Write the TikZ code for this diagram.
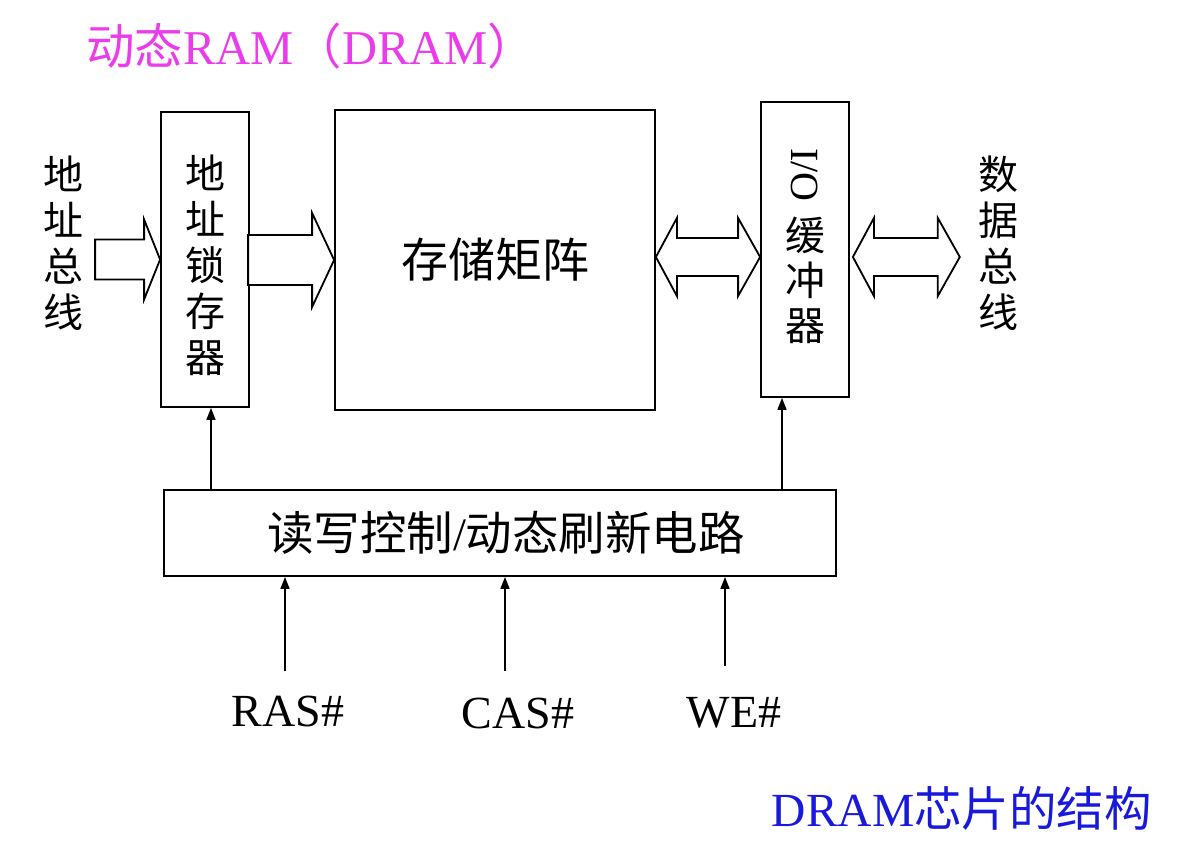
\documentclass[tikz,border=0pt]{standalone}
\usepackage{fontspec}
\setmainfont{Liberation Serif}
\newfontfamily\cjk{Noto Sans CJK SC}
\usetikzlibrary{calc,arrows.meta}
\definecolor{titlemag}{RGB}{235,60,235}
\definecolor{capblue}{RGB}{25,25,220}
\tikzset{
  blk/.style={draw=black, line width=1.8pt, fill=white, inner sep=0pt},
  hollow/.style={draw=black, line width=1.8pt, fill=white, line join=miter},
  sig/.style={draw=black, line width=1.5pt, -{Triangle[length=12pt,width=9pt]}},
  vtext/.style={font=\cjk\fontsize{40}{46}\selectfont, align=center, inner sep=0pt},
  lbl/.style={font=\fontsize{46}{50}\selectfont, inner sep=0pt}
}
\begin{document}
\begin{tikzpicture}[x=1pt,y=-1pt]
\useasboundingbox (0,0) rectangle (1181,847);
\fill[white] (0,0) rectangle (1181,847);

% title
\node[inner sep=0pt, text=titlemag, font=\fontsize{48.5}{52}\selectfont, anchor=west] (title) at (86,46)
  {{\cjk 动态}RAM{\cjk （}DRAM{\cjk ）}};

% boxes
\node[blk, minimum width=88, minimum height=295] (latch) at (205,259.5) {};
\node[vtext] (latchtxt) at (205,265) {地\\址\\锁\\存\\器};
\node[blk, minimum width=320, minimum height=300, font=\cjk\fontsize{47}{50}\selectfont] (matrix) at (495,260) {\raisebox{4pt}{存储矩阵}};
\node[blk, minimum width=88, minimum height=295] (io) at (805,249.5) {};
\node[inner sep=0pt, font=\fontsize{40}{44}\selectfont] (iolat) at (805,175) {\rotatebox{-90}{I/O}};
\node[vtext, font=\cjk\fontsize{40}{45}\selectfont] (iocjk) at (805,280) {缓\\冲\\器};
\node[blk, minimum width=672, minimum height=86, font=\cjk\fontsize{46.5}{50}\selectfont] (ctrl) at (500,533)
  {\hspace*{12pt}读写控制{\rmfamily /}动态刷新电路};

% side labels
\node[vtext] (abus) at (63,243) {地\\址\\总\\线};
\node[vtext] (dbus) at (998,243) {数\\据\\总\\线};

% hollow arrows
\draw[hollow] (latch.west) -- ++(-16,-40) -- ++(0,20) -- ++(-49,0) -- ++(0,40) -- ++(49,0) -- ++(0,20) -- cycle;
\draw[hollow] (matrix.west) -- ++(-22,-47) -- ++(0,22) -- ++(-64,0) -- ++(0,50) -- ++(64,0) -- ++(0,22) -- cycle;
\coordinate (dl) at ($(matrix.east)+(0,-3)$);
\coordinate (dr) at (io.west |- dl);
\draw[hollow] (dl) -- ++(21,-39) -- ++(0,20) -- ($(dr)+(-22,-19)$) -- ++(0,-20) -- (dr) -- ++(-22,39) -- ++(0,-20) -- ($(dl)+(21,19)$) -- ++(0,20) -- cycle;
\coordinate (el) at ($(io.east |- dl)+(3,0)$);
\coordinate (er) at ($(dbus.west |- dl)+(-18,0)$);
\draw[hollow] (el) -- ++(21,-39) -- ++(0,20) -- ($(er)+(-22,-19)$) -- ++(0,-20) -- (er) -- ++(-22,39) -- ++(0,-20) -- ($(el)+(21,19)$) -- ++(0,20) -- cycle;

% control arrows
\draw[sig] ([xshift=6pt]latch.south |- ctrl.north) -- ([xshift=6pt]latch.south);
\draw[sig] ([xshift=-23pt]io.south |- ctrl.north) -- ([xshift=-23pt]io.south);

% signal labels
\node[lbl] (ras) at (288,711) {RAS\#};
\node[lbl] (cas) at (518,713) {CAS\#};
\node[lbl] (we) at (734,713) {WE\#};
\coordinate (rasin) at (285,671);
\coordinate (casin) at (505,671);
\coordinate (wein) at (725,666);
\draw[sig] (rasin) -- (rasin |- ctrl.south);
\draw[sig] (casin) -- (casin |- ctrl.south);
\draw[sig] (wein) -- (wein |- ctrl.south);

% caption
\node[inner sep=0pt, text=capblue, font=\fontsize{47.5}{50}\selectfont, anchor=east] (cap) at (1152,808)
  {DRAM{\cjk 芯片的结构}};
\end{tikzpicture}
\end{document}
